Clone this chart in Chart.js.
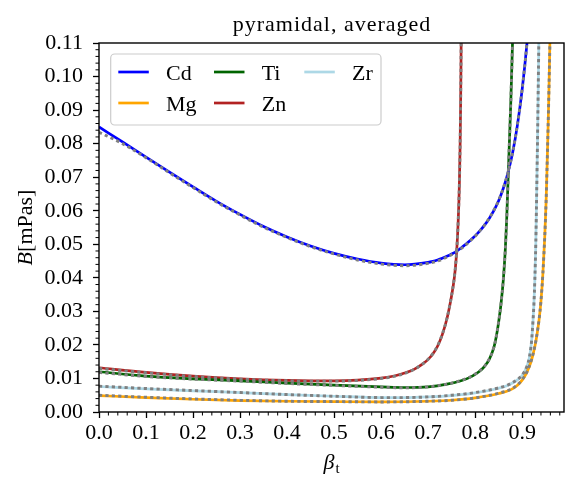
<!DOCTYPE html>
<html><head><meta charset="utf-8">
<script src="https://cdn.jsdelivr.net/npm/chart.js@4.4.1/dist/chart.umd.min.js"></script>
<style>html,body{margin:0;padding:0;background:#fff;}canvas{display:block;}</style>
</head><body>
<canvas id="c" width="585" height="491"></canvas>
<script>
// ---------- data ----------
const titleText = 'pyramidal, averaged';
const xTickVals = [0.0, 0.1, 0.2, 0.3, 0.4, 0.5, 0.6, 0.7, 0.8, 0.9];
const yTickVals = [0.00, 0.01, 0.02, 0.03, 0.04, 0.05, 0.06, 0.07, 0.08, 0.09, 0.10, 0.11];
const seriesNames = ['Cd', 'Mg', 'Ti', 'Zn', 'Zr'];

const betaCd = [0, 0.05, 0.1, 0.15, 0.2, 0.25, 0.3, 0.35, 0.4, 0.45, 0.5, 0.55, 0.6, 0.65,
  0.70, 0.71, 0.72, 0.73, 0.74, 0.75, 0.76, 0.77, 0.78, 0.79, 0.80, 0.81, 0.82, 0.83, 0.84, 0.85, 0.86, 0.87, 0.88, 0.89, 0.90, 0.91, 0.92];
const valCd  = [0.0850, 0.0805, 0.0760, 0.0715, 0.0671, 0.0628, 0.0589, 0.0553, 0.0522, 0.0495, 0.0473, 0.0456, 0.0444, 0.0439,
  0.0446, 0.0449, 0.0453, 0.0458, 0.0464, 0.0471, 0.0479, 0.0489, 0.0500, 0.0512, 0.0525, 0.0540, 0.0557, 0.0577, 0.0601, 0.0630, 0.0667, 0.0714, 0.0775, 0.0856, 0.0961, 0.1095, 0.1265];
const fitCd  = [0.0834, 0.0800, 0.0758, 0.0713, 0.0669, 0.0626, 0.0587, 0.0551, 0.0520, 0.0493, 0.0471, 0.0453, 0.0441, 0.0436,
  0.0443, 0.0446, 0.0450, 0.0455, 0.0462, 0.0469, 0.0477, 0.0487, 0.0498, 0.0511, 0.0524, 0.0540, 0.0557, 0.0578, 0.0602, 0.0631, 0.0668, 0.0715, 0.0776, 0.0857, 0.0962, 0.1096, 0.1266];

const betaMg = [0, 0.1, 0.2, 0.3, 0.4, 0.5, 0.6, 0.7, 0.75, 0.8, 0.85, 0.875, 0.89, 0.9, 0.91, 0.92, 0.927, 0.932, 0.936, 0.94, 0.944, 0.948, 0.951, 0.953, 0.955, 0.957, 0.959, 0.961];
const valMg  = [0.0049, 0.0043, 0.0038, 0.0034, 0.0032, 0.0031, 0.0030, 0.0032, 0.0035, 0.0042, 0.0055, 0.0066, 0.0080, 0.0095, 0.0118, 0.0155, 0.0195, 0.0235, 0.0275, 0.0330, 0.0410, 0.0520, 0.0630, 0.0730, 0.0840, 0.0960, 0.1100, 0.1260];
const fitMg  = [0.0050, 0.0044, 0.0039, 0.0035, 0.0032, 0.0031, 0.0030, 0.0032, 0.0035, 0.0042, 0.0056, 0.0067, 0.0081, 0.0096, 0.0119, 0.0156, 0.0196, 0.0236, 0.0276, 0.0331, 0.0411, 0.0521, 0.0631, 0.0731, 0.0841, 0.0961, 0.1101, 0.1261];

const betaTi = [0, 0.1, 0.2, 0.3, 0.4, 0.5, 0.6, 0.65, 0.7, 0.74, 0.77, 0.79, 0.8, 0.81, 0.82, 0.83, 0.84, 0.845, 0.85, 0.855, 0.86, 0.864, 0.867, 0.87, 0.873, 0.876, 0.8795, 0.881];
const valTi  = [0.0120, 0.0107, 0.0099, 0.0093, 0.0086, 0.0080, 0.0075, 0.0073, 0.0075, 0.0083, 0.0093, 0.0104, 0.0112, 0.0122, 0.0136, 0.0157, 0.0193, 0.0225, 0.0268, 0.0322, 0.0395, 0.0480, 0.0570, 0.0690, 0.0810, 0.0930, 0.1100, 0.1180];
const fitTi  = [0.0118, 0.0106, 0.0098, 0.0092, 0.0085, 0.0079, 0.0074, 0.0072, 0.0075, 0.0083, 0.0094, 0.0105, 0.0113, 0.0123, 0.0137, 0.0158, 0.0194, 0.0226, 0.0269, 0.0323, 0.0396, 0.0481, 0.0571, 0.0691, 0.0811, 0.0931, 0.1101, 0.1181];

const betaZn = [0, 0.1, 0.2, 0.3, 0.4, 0.45, 0.5, 0.55, 0.6, 0.63, 0.65, 0.67, 0.69, 0.7, 0.71, 0.72, 0.73, 0.74, 0.745, 0.75, 0.755, 0.758, 0.761, 0.764, 0.7665, 0.768, 0.769, 0.770, 0.7708];
const valZn  = [0.0132, 0.0118, 0.0107, 0.0099, 0.0094, 0.0093, 0.0093, 0.0095, 0.0101, 0.0108, 0.0116, 0.0127, 0.0145, 0.0157, 0.0173, 0.0196, 0.0230, 0.0278, 0.0310, 0.0347, 0.0392, 0.0430, 0.0485, 0.0570, 0.0680, 0.0790, 0.0900, 0.1050, 0.1200];
const fitZn  = [0.0130, 0.0117, 0.0106, 0.0098, 0.0093, 0.0092, 0.0092, 0.0094, 0.0100, 0.0107, 0.0115, 0.0127, 0.0145, 0.0157, 0.0174, 0.0197, 0.0231, 0.0279, 0.0311, 0.0348, 0.0393, 0.0431, 0.0486, 0.0571, 0.0681, 0.0791, 0.0901, 0.1051, 0.1201];

const betaZr = [0, 0.1, 0.2, 0.3, 0.4, 0.5, 0.6, 0.65, 0.7, 0.75, 0.8, 0.85, 0.87, 0.89, 0.9, 0.91, 0.915, 0.92, 0.923, 0.925, 0.927, 0.929, 0.931, 0.933, 0.9345, 0.936, 0.937];
const valZr  = [0.0076, 0.0069, 0.0063, 0.0058, 0.0052, 0.0047, 0.0043, 0.0043, 0.0045, 0.0049, 0.0057, 0.0071, 0.0080, 0.0096, 0.0109, 0.0135, 0.0160, 0.0210, 0.0270, 0.0320, 0.0395, 0.0500, 0.0660, 0.0840, 0.1000, 0.1160, 0.1280];
const fitZr  = [0.0077, 0.0070, 0.0064, 0.0058, 0.0052, 0.0047, 0.0043, 0.0043, 0.0045, 0.0050, 0.0058, 0.0072, 0.0081, 0.0097, 0.0110, 0.0136, 0.0161, 0.0211, 0.0271, 0.0321, 0.0396, 0.0501, 0.0661, 0.0841, 0.1001, 0.1161, 0.1281];

const seriesBeta = [betaCd, betaMg, betaTi, betaZn, betaZr];
const seriesVal  = [valCd, valMg, valTi, valZn, valZr];
const seriesFit  = [fitCd, fitMg, fitTi, fitZn, fitZr];

// ---------- styles ----------
const seriesColors = ['#0000ff', '#ffa500', '#006400', '#b22222', '#add8e6'];
const fitColor = '#808080';
const FONT = "'Liberation Serif', 'Times New Roman', serif";

function pts(bs, vs) { return bs.map((b, i) => ({ x: b, y: vs[i] })); }

const datasets = [];
seriesNames.forEach((name, i) => {
  datasets.push({
    label: name, data: pts(seriesBeta[i], seriesVal[i]),
    borderColor: seriesColors[i], borderWidth: 2.7, pointRadius: 0,
    cubicInterpolationMode: 'monotone', fill: false, order: 1, clip: 0
  });
});
seriesNames.forEach((name, i) => {
  datasets.push({
    label: name + ' fit', data: pts(seriesBeta[i], seriesFit[i]),
    borderColor: fitColor, borderWidth: 2.9, borderDash: [3.2, 3.2], pointRadius: 0,
    cubicInterpolationMode: 'monotone', fill: false, order: 0, clip: 0
  });
});

const deco = {
  id: 'deco',
  afterDraw(chart) {
    const ctx = chart.ctx, a = chart.chartArea, xs = chart.scales.x, ys = chart.scales.y;
    ctx.save();
    ctx.strokeStyle = '#000';
    ctx.lineWidth = 1;
    const seg = (x1, y1, x2, y2) => { ctx.beginPath(); ctx.moveTo(x1, y1); ctx.lineTo(x2, y2); ctx.stroke(); };
    for (let k = 1; k < 50; k++) {
      if (k % 5 === 0) continue;
      const p = xs.getPixelForValue(k * 0.02);
      if (p > a.right) break;
      seg(p, a.bottom, p, a.bottom + 3.5);
    }
    for (let k = 1; k < 55; k++) {
      if (k % 5 === 0) continue;
      const p = ys.getPixelForValue(k * 0.002);
      seg(a.left - 3.5, p, a.left, p);
    }
    // frame
    ctx.lineWidth = 1.4;
    ctx.strokeRect(a.left, a.top, a.width, a.height);

    // title
    ctx.fillStyle = '#000';
    ctx.textBaseline = 'alphabetic';
    ctx.textAlign = 'center';
    ctx.font = '22px ' + FONT;
    if ('letterSpacing' in ctx) ctx.letterSpacing = '1px';
    ctx.fillText(titleText, (a.left + a.right) / 2 + 0.5, 31);
    if ('letterSpacing' in ctx) ctx.letterSpacing = '0px';

    // x title: beta_t
    ctx.textAlign = 'left';
    ctx.font = 'italic 22px ' + FONT;
    const wb = ctx.measureText('β').width;
    ctx.font = '15px ' + FONT;
    const wt = ctx.measureText('t').width;
    const cx = (a.left + a.right) / 2;
    const x0 = cx - (wb + wt + 1) / 2;
    ctx.font = 'italic 22px ' + FONT;
    ctx.fillText('β', x0, 469);
    ctx.font = '15px ' + FONT;
    ctx.fillText('t', x0 + wb + 1, 473);

    // y title: B[mPas]
    ctx.save();
    ctx.translate(32, (a.top + a.bottom) / 2);
    ctx.rotate(-Math.PI / 2);
    ctx.font = 'italic 22px ' + FONT;
    const wB = ctx.measureText('B').width;
    ctx.font = '22px ' + FONT;
    const wU = ctx.measureText('[mPas]').width;
    const s0 = -(wB + wU) / 2;
    ctx.font = 'italic 22px ' + FONT;
    ctx.fillText('B', s0, 0);
    ctx.font = '22px ' + FONT;
    ctx.fillText('[mPas]', s0 + wB, 0);
    ctx.restore();

    // legend
    const lx = 110.7, ly = 54, lw = 270.3, lh = 71;
    ctx.beginPath();
    ctx.roundRect(lx, ly, lw, lh, 4);
    ctx.fillStyle = 'rgba(255,255,255,0.8)';
    ctx.fill();
    ctx.strokeStyle = '#cccccc';
    ctx.lineWidth = 1.2;
    ctx.stroke();
    const cols = [118.3, 214, 304.3], rows = [72, 103];
    seriesNames.forEach((name, i) => {
      const c = Math.floor(i / 2), r = i % 2;
      ctx.strokeStyle = seriesColors[i];
      ctx.lineWidth = 2.7;
      seg(cols[c], rows[r], cols[c] + 30.5, rows[r]);
      ctx.fillStyle = '#000';
      ctx.font = '22px ' + FONT;
      ctx.textAlign = 'left';
      ctx.fillText(name, cols[c] + 47.7, rows[r] + 8);
    });
    ctx.restore();
  }
};

new Chart(document.getElementById('c'), {
  type: 'line',
  data: { datasets },
  plugins: [deco],
  options: {
    responsive: false, devicePixelRatio: 1, animation: false, events: [],
    layout: { padding: { left: 0, right: 21, top: 43, bottom: 0 } },
    plugins: { legend: { display: false }, tooltip: { enabled: false }, title: { display: false } },
    scales: {
      x: {
        type: 'linear', min: 0, max: 0.989,
        afterBuildTicks: s => { s.ticks = xTickVals.map(v => ({ value: v })); },
        afterFit: s => { s.height = 79; },
        ticks: { callback: v => Number(v).toFixed(1), autoSkip: false, maxRotation: 0, padding: 2, color: '#000', font: { family: FONT, size: 22 } },
        grid: { display: true, drawOnChartArea: false, drawTicks: true, tickLength: 6, tickWidth: 1.3, tickColor: '#000' },
        border: { display: false }
      },
      y: {
        type: 'linear', min: 0, max: 0.11,
        afterBuildTicks: s => { s.ticks = yTickVals.map(v => ({ value: v })); },
        afterFit: s => { s.width = 99; },
        ticks: { callback: v => Number(v).toFixed(2), autoSkip: false, padding: 10, color: '#000', font: { family: FONT, size: 22 } },
        grid: { display: true, drawOnChartArea: false, drawTicks: true, tickLength: 6, tickWidth: 1.3, tickColor: '#000' },
        border: { display: false }
      }
    }
  }
});
</script>
</body></html>
